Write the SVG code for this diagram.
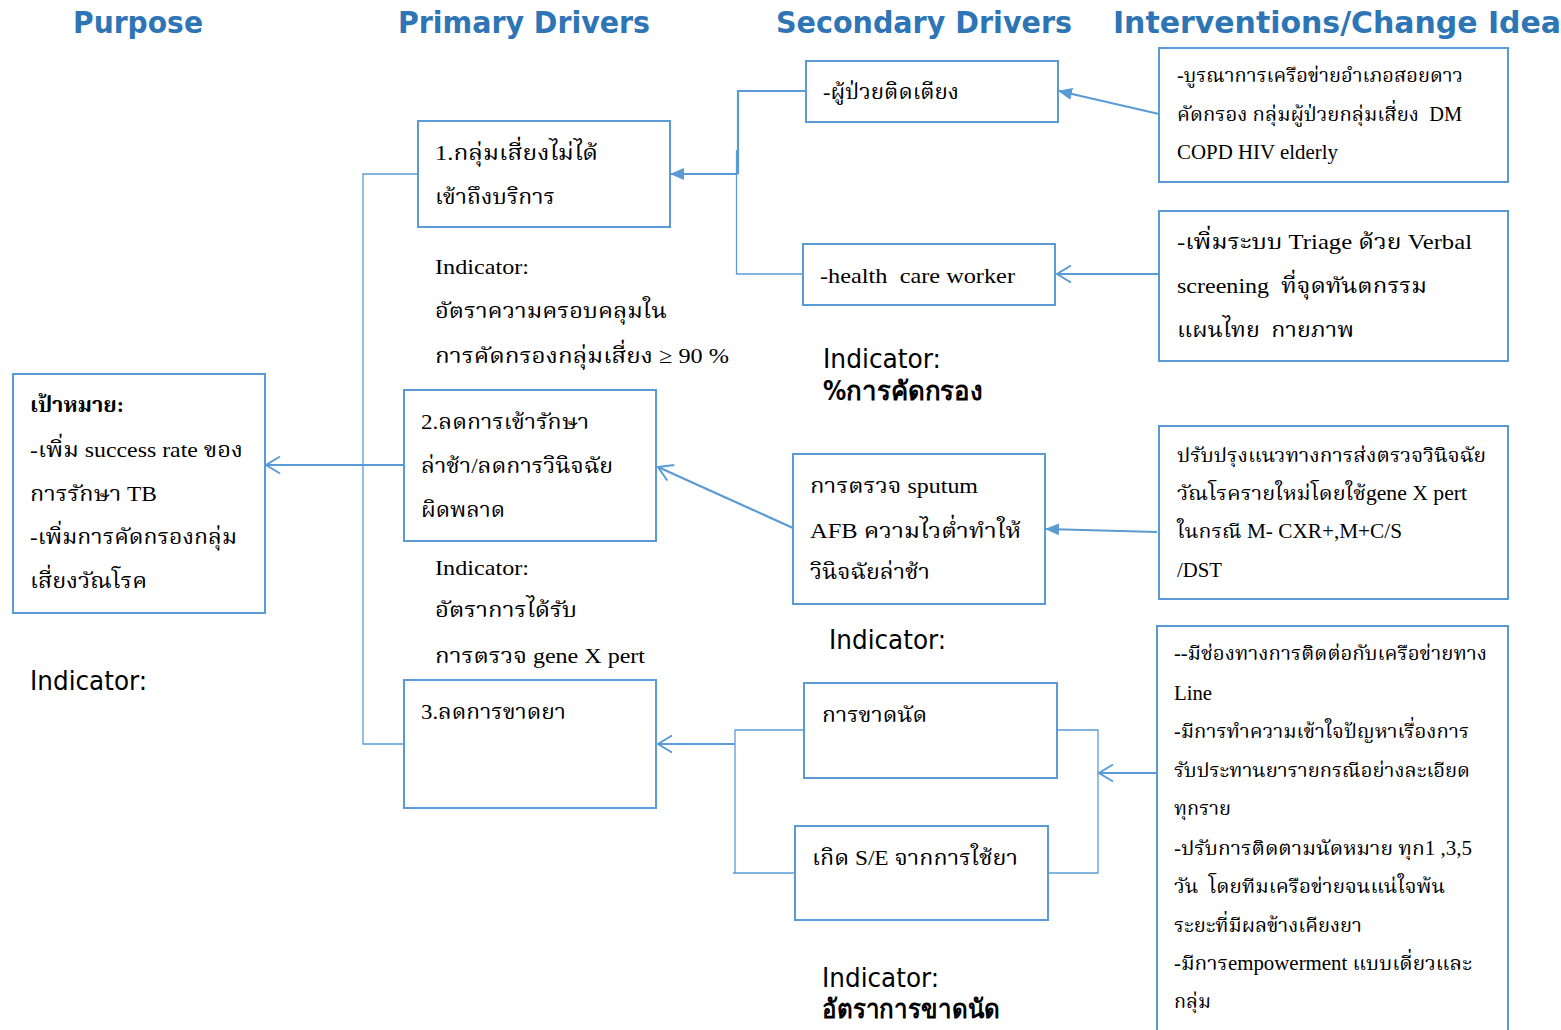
<svg xmlns="http://www.w3.org/2000/svg" width="1561" height="1030" viewBox="0 0 1561 1030">
  <style>
    .hdr { font-family: "DejaVu Sans Condensed", "DejaVu Sans", sans-serif; font-weight: bold; font-size: 31px; fill: #2E75B6; }
    .box { fill: #FFFFFF; stroke: #5B9BD5; stroke-width: 2; }
    .t { font-family: "Liberation Serif", "Noto Serif Thai", "Noto Sans Thai", "DejaVu Sans", serif; font-size: 22px; fill: #000000; white-space: pre; }
    .s { font-size: 20px; }
    .ind { font-family: "DejaVu Sans Condensed", "DejaVu Sans", sans-serif; font-size: 26px; fill: #000000; }
    .b { font-weight: bold; }
    .thin { fill: none; stroke: #5B9BD5; stroke-width: 1.3; }
    .thick { fill: none; stroke: #5B9BD5; stroke-width: 2.2; }
  </style>
  <defs>
    <marker id="solid" markerUnits="userSpaceOnUse" markerWidth="14" markerHeight="14" viewBox="0 0 14 14" refX="13" refY="7" orient="auto">
      <path d="M0,1 L14,7 L0,13 z" fill="#5B9BD5"/>
    </marker>
    <marker id="open" markerUnits="userSpaceOnUse" markerWidth="18" markerHeight="20" viewBox="0 0 18 20" refX="16" refY="10" orient="auto">
      <path d="M2,1.5 L16,10 L2,18.5" fill="none" stroke="#5B9BD5" stroke-width="2"/>
    </marker>
  </defs>

  <!-- column headings -->
  <g id="headings">
    <text class="hdr" x="73" y="33" textLength="130" lengthAdjust="spacingAndGlyphs">Purpose</text>
    <text class="hdr" x="398" y="33" textLength="252" lengthAdjust="spacingAndGlyphs">Primary Drivers</text>
    <text class="hdr" x="776" y="33" textLength="296" lengthAdjust="spacingAndGlyphs">Secondary Drivers</text>
    <text class="hdr" x="1113" y="33" textLength="448" lengthAdjust="spacingAndGlyphs">Interventions/Change Idea</text>
  </g>

  <!-- connectors -->
  <g id="connectors">
    <!-- left trunk joining the primary drivers to the purpose -->
    <path class="thin" d="M418,174 H363 V744 H404"/>
    <path class="thick" d="M404,465 H266" marker-end="url(#open)"/>
    <!-- secondary drivers to driver 1 -->
    <path class="thick" d="M806,91 H738 V174"/>
    <path class="thin" d="M803,274 H736.5 V150"/>
    <path class="thick" d="M738,174 H671" marker-end="url(#solid)"/>
    <!-- interventions to secondary drivers -->
    <path class="thick" d="M1159,114 L1059,91" marker-end="url(#solid)"/>
    <path class="thick" d="M1159,274 H1057" marker-end="url(#open)"/>
    <path class="thick" d="M1157,532 L1046,529" marker-end="url(#solid)"/>
    <path class="thick" d="M793,528 L658,467" marker-end="url(#open)"/>
    <!-- bottom group into driver 3 -->
    <path class="thin" d="M804,730 H735 V873 H733 M735,873 H795"/>
    <path class="thick" d="M735,744 H658" marker-end="url(#open)"/>
    <path class="thin" d="M1057,730 H1098 V873 H1048"/>
    <path class="thick" d="M1157,773 H1099" marker-end="url(#open)"/>
  </g>

  <!-- purpose -->
  <g id="purpose">
    <rect class="box" x="13" y="374" width="252" height="239"/>
    <text class="t b" x="30" y="412" textLength="94" lengthAdjust="spacingAndGlyphs">เป้าหมาย:</text>
    <text class="t" x="30" y="457" textLength="213" lengthAdjust="spacingAndGlyphs">-เพิ่ม success rate ของ</text>
    <text class="t" x="30" y="501" textLength="127" lengthAdjust="spacingAndGlyphs">การรักษา TB</text>
    <text class="t" x="30" y="544" textLength="207" lengthAdjust="spacingAndGlyphs">-เพิ่มการคัดกรองกลุ่ม</text>
    <text class="t" x="30" y="588" textLength="117" lengthAdjust="spacingAndGlyphs">เสี่ยงวัณโรค</text>
  </g>
  <g id="purpose-indicator">
    <text class="ind" x="30" y="690" textLength="117" lengthAdjust="spacingAndGlyphs">Indicator:</text>
  </g>

  <!-- primary drivers -->
  <g id="driver-1">
    <rect class="box" x="418" y="121" width="252" height="106"/>
    <text class="t" x="435" y="160" textLength="163" lengthAdjust="spacingAndGlyphs">1.กลุ่มเสี่ยงไม่ได้</text>
    <text class="t" x="435" y="204" textLength="120" lengthAdjust="spacingAndGlyphs">เข้าถึงบริการ</text>
  </g>
  <g id="driver-1-indicator">
    <text class="t" x="435" y="274" textLength="94" lengthAdjust="spacingAndGlyphs">Indicator:</text>
    <text class="t" x="435" y="318" textLength="232" lengthAdjust="spacingAndGlyphs">อัตราความครอบคลุมใน</text>
    <text class="t" x="435" y="363" textLength="294" lengthAdjust="spacingAndGlyphs">การคัดกรองกลุ่มเสี่ยง ≥ 90 %</text>
  </g>

  <g id="driver-2">
    <rect class="box" x="404" y="390" width="252" height="151"/>
    <text class="t" x="421" y="429" textLength="168" lengthAdjust="spacingAndGlyphs">2.ลดการเข้ารักษา</text>
    <text class="t" x="421" y="473" textLength="192" lengthAdjust="spacingAndGlyphs">ล่าช้า/ลดการวินิจฉัย</text>
    <text class="t" x="421" y="517" textLength="84" lengthAdjust="spacingAndGlyphs">ผิดพลาด</text>
  </g>
  <g id="driver-2-indicator">
    <text class="t" x="435" y="575" textLength="94" lengthAdjust="spacingAndGlyphs">Indicator:</text>
    <text class="t" x="435" y="617" textLength="142" lengthAdjust="spacingAndGlyphs">อัตราการได้รับ</text>
    <text class="t" x="435" y="663" textLength="210" lengthAdjust="spacingAndGlyphs">การตรวจ gene X pert</text>
  </g>

  <g id="driver-3">
    <rect class="box" x="404" y="680" width="252" height="128"/>
    <text class="t" x="421" y="719" textLength="145" lengthAdjust="spacingAndGlyphs">3.ลดการขาดยา</text>
  </g>

  <!-- secondary drivers -->
  <g id="bedridden">
    <rect class="box" x="806" y="61" width="252" height="61"/>
    <text class="t" x="823" y="99" textLength="136" lengthAdjust="spacingAndGlyphs">-ผู้ป่วยติดเตียง</text>
  </g>
  <g id="health-care-worker">
    <rect class="box" x="803" y="244" width="252" height="61"/>
    <text class="t" x="820" y="283" textLength="195" lengthAdjust="spacingAndGlyphs" xml:space="preserve">-health  care worker</text>
  </g>
  <g id="screening-indicator">
    <text class="ind" x="823" y="368" textLength="118" lengthAdjust="spacingAndGlyphs">Indicator:</text>
    <text class="ind b" x="823" y="400" textLength="160" lengthAdjust="spacingAndGlyphs">%การคัดกรอง</text>
  </g>

  <g id="sputum">
    <rect class="box" x="793" y="454" width="252" height="150"/>
    <text class="t" x="810" y="493" textLength="168" lengthAdjust="spacingAndGlyphs">การตรวจ sputum</text>
    <text class="t" x="810" y="538" textLength="211" lengthAdjust="spacingAndGlyphs">AFB ความไวต่ำทำให้</text>
    <text class="t" x="810" y="579" textLength="120" lengthAdjust="spacingAndGlyphs">วินิจฉัยล่าช้า</text>
  </g>
  <g id="sputum-indicator">
    <text class="ind" x="829" y="649" textLength="117" lengthAdjust="spacingAndGlyphs">Indicator:</text>
  </g>

  <g id="missed-appointment">
    <rect class="box" x="804" y="683" width="253" height="95"/>
    <text class="t" x="822" y="722" textLength="105" lengthAdjust="spacingAndGlyphs">การขาดนัด</text>
  </g>
  <g id="side-effects">
    <rect class="box" x="795" y="826" width="253" height="94"/>
    <text class="t" x="812" y="865" textLength="206" lengthAdjust="spacingAndGlyphs">เกิด S/E จากการใช้ยา</text>
  </g>
  <g id="default-indicator">
    <text class="ind" x="822" y="987" textLength="117" lengthAdjust="spacingAndGlyphs">Indicator:</text>
    <text class="ind b" x="822" y="1018" textLength="178" lengthAdjust="spacingAndGlyphs">อัตราการขาดนัด</text>
  </g>

  <!-- interventions / change ideas -->
  <g id="intervention-1">
    <rect class="box" x="1159" y="48" width="349" height="134"/>
    <text class="t s" x="1177" y="82" textLength="286" lengthAdjust="spacingAndGlyphs">-บูรณาการเครือข่ายอำเภอสอยดาว</text>
    <text class="t s" x="1177" y="121" textLength="285" lengthAdjust="spacingAndGlyphs" xml:space="preserve">คัดกรอง กลุ่มผู้ป่วยกลุ่มเสี่ยง  DM</text>
    <text class="t s" x="1177" y="159" textLength="161" lengthAdjust="spacingAndGlyphs">COPD HIV elderly</text>
  </g>
  <g id="intervention-2">
    <rect class="box" x="1159" y="211" width="349" height="150"/>
    <text class="t" x="1177" y="249" textLength="295" lengthAdjust="spacingAndGlyphs">-เพิ่มระบบ Triage ด้วย Verbal</text>
    <text class="t" x="1177" y="293" textLength="250" lengthAdjust="spacingAndGlyphs" xml:space="preserve">screening  ที่จุดทันตกรรม</text>
    <text class="t" x="1177" y="337" textLength="177" lengthAdjust="spacingAndGlyphs" xml:space="preserve">แผนไทย  กายภาพ</text>
  </g>
  <g id="intervention-3">
    <rect class="box" x="1159" y="426" width="349" height="173"/>
    <text class="t s" x="1177" y="462" textLength="309" lengthAdjust="spacingAndGlyphs">ปรับปรุงแนวทางการส่งตรวจวินิจฉัย</text>
    <text class="t s" x="1177" y="500" textLength="290" lengthAdjust="spacingAndGlyphs">วัณโรครายใหม่โดยใช้gene X pert</text>
    <text class="t s" x="1177" y="538" textLength="225" lengthAdjust="spacingAndGlyphs">ในกรณี M- CXR+,M+C/S</text>
    <text class="t s" x="1177" y="577" textLength="45" lengthAdjust="spacingAndGlyphs">/DST</text>
  </g>
  <g id="intervention-4">
    <rect class="box" x="1157" y="626" width="351" height="420"/>
    <text class="t s" x="1174" y="660" textLength="313" lengthAdjust="spacingAndGlyphs">--มีช่องทางการติดต่อกับเครือข่ายทาง</text>
    <text class="t s" x="1174" y="700" textLength="38" lengthAdjust="spacingAndGlyphs">Line</text>
    <text class="t s" x="1174" y="738" textLength="295" lengthAdjust="spacingAndGlyphs">-มีการทำความเข้าใจปัญหาเรื่องการ</text>
    <text class="t s" x="1174" y="777" textLength="296" lengthAdjust="spacingAndGlyphs">รับประทานยารายกรณีอย่างละเอียด</text>
    <text class="t s" x="1174" y="815" textLength="57" lengthAdjust="spacingAndGlyphs">ทุกราย</text>
    <text class="t s" x="1174" y="855" textLength="298" lengthAdjust="spacingAndGlyphs">-ปรับการติดตามนัดหมาย ทุก1 ,3,5</text>
    <text class="t s" x="1174" y="893" textLength="271" lengthAdjust="spacingAndGlyphs" xml:space="preserve">วัน  โดยทีมเครือข่ายจนแน่ใจพ้น</text>
    <text class="t s" x="1174" y="932" textLength="188" lengthAdjust="spacingAndGlyphs">ระยะที่มีผลข้างเคียงยา</text>
    <text class="t s" x="1174" y="970" textLength="298" lengthAdjust="spacingAndGlyphs">-มีการempowerment แบบเดี่ยวและ</text>
    <text class="t s" x="1174" y="1008" textLength="37" lengthAdjust="spacingAndGlyphs">กลุ่ม</text>
  </g>
</svg>
